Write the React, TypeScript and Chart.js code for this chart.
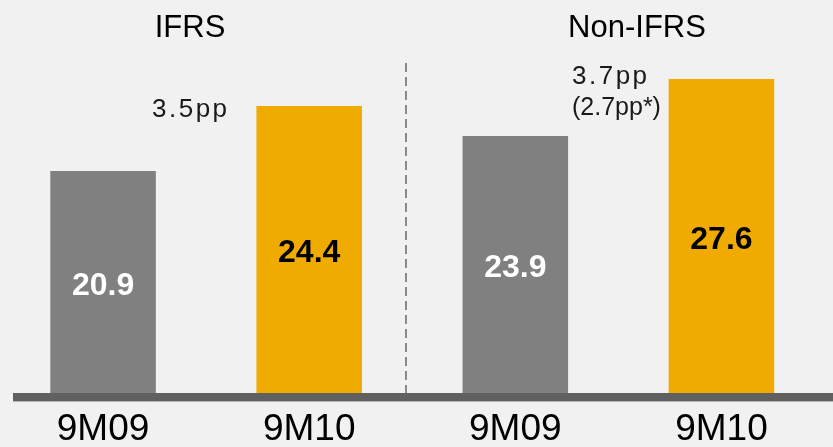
import React, { useEffect, useRef } from 'react';
import { Chart, registerables } from 'chart.js';

Chart.register(...registerables);

const FONT = '"Liberation Sans", Arial, Helvetica, sans-serif';

const categories = ['9M09', '9M10', '9M09', '9M10'];
const ifrsValues = [20.9, 24.4, null, null];
const nonIfrsValues = [null, null, 23.9, 27.6];
const valueLabels = ['20.9', '24.4', '23.9', '27.6'];
const barColors = ['#808080', '#f0ab00', '#808080', '#f0ab00'];
const valueLabelColors = ['#ffffff', '#000000', '#ffffff', '#000000'];
const groupLabels = ['IFRS', 'Non-IFRS'];
const ifrsChange = ['3.5pp'];
const nonIfrsChange = ['3.7pp', '(2.7pp*)'];

export default function App() {
  const ref = useRef<HTMLCanvasElement>(null);

  useEffect(() => {
    document.body.style.margin = '0';
    document.body.style.background = '#f1f1f1';
    document.body.style.overflow = 'hidden';
    const canvas = ref.current!;
    const overlay = {
      id: 'overlay',
      beforeDatasetsDraw(chart: any) {
        const ctx = chart.ctx;
        ctx.save();
        ctx.strokeStyle = '#8a8a8a';
        ctx.lineWidth = 2;
        ctx.setLineDash([9, 5]);
        ctx.beginPath();
        ctx.moveTo(406, 63);
        ctx.lineTo(406, 393);
        ctx.stroke();
        ctx.restore();
      },
      afterDatasetsDraw(chart: any) {
        const ctx = chart.ctx;
        const bottom = chart.chartArea.bottom;
        ctx.save();
        // baseline
        ctx.fillStyle = '#606060';
        ctx.fillRect(13, 393, 820, 8);
        ctx.fillStyle = '#b4b4b4';
        ctx.fillRect(13, 401, 820, 1);

        // value labels in bars
        ctx.font = `bold 32px ${FONT}`;
        ctx.textAlign = 'center';
        ctx.textBaseline = 'middle';
        [0, 1].forEach((d) => {
          const meta = chart.getDatasetMeta(d);
          const values = chart.data.datasets[d].data;
          meta.data.forEach((bar: any, i: number) => {
            if (values[i] == null) return;
            ctx.fillStyle = valueLabelColors[i];
            const base = Math.min(bar.base, bottom);
            ctx.fillText(valueLabels[i], bar.x, (bar.y + base) / 2 + 4);
          });
        });

        // group headings
        ctx.fillStyle = '#000';
        ctx.font = `31px ${FONT}`;
        ctx.textBaseline = 'alphabetic';
        ctx.fillText(groupLabels[0], 190, 37);
        ctx.fillText(groupLabels[1], 637, 37);

        // change annotations
        ctx.textAlign = 'left';
        ctx.fillStyle = '#1a1a1a';
        ctx.font = `26px ${FONT}`;
        (ctx as any).letterSpacing = '2.5px';
        ctx.fillText(ifrsChange[0], 152, 117);
        ctx.fillText(nonIfrsChange[0], 572, 84);
        (ctx as any).letterSpacing = '0px';
        ctx.font = `25px ${FONT}`;
        ctx.fillText(nonIfrsChange[1], 572, 115);
        ctx.restore();
      },
    };

    const common = {
      backgroundColor: barColors,
      borderWidth: 0,
      categoryPercentage: 1,
      barPercentage: 0.512,
      grouped: false,
    };

    const chart = new Chart(canvas, {
      type: 'bar',
      data: {
        labels: categories,
        datasets: [
          { ...common, label: groupLabels[0], data: ifrsValues, yAxisID: 'yIfrs' },
          { ...common, label: groupLabels[1], data: nonIfrsValues, yAxisID: 'yNonIfrs' },
        ],
      },
      options: {
        responsive: false,
        animation: false,
        devicePixelRatio: 1,
        layout: { padding: { top: 42, bottom: -19, left: -3.5, right: 8.5 } },
        plugins: { legend: { display: false }, tooltip: { enabled: false } },
        scales: {
          x: {
            grid: { display: false, drawTicks: false },
            border: { display: false },
            ticks: { color: '#000', font: { family: FONT, size: 37, lineHeight: 1 }, padding: 18 },
          },
          yIfrs: { display: false, min: 8.94, max: 27.84 },
          yNonIfrs: { display: false, min: 7.22, max: 30.0 },
        },
      },
      plugins: [overlay],
    } as any);
    return () => chart.destroy();
  }, []);

  return (
    <div style={{ width: 833, height: 447, background: '#f1f1f1', overflow: 'hidden' }}>
      <canvas ref={ref} width={833} height={447} style={{ display: 'block' }} />
    </div>
  );
}
